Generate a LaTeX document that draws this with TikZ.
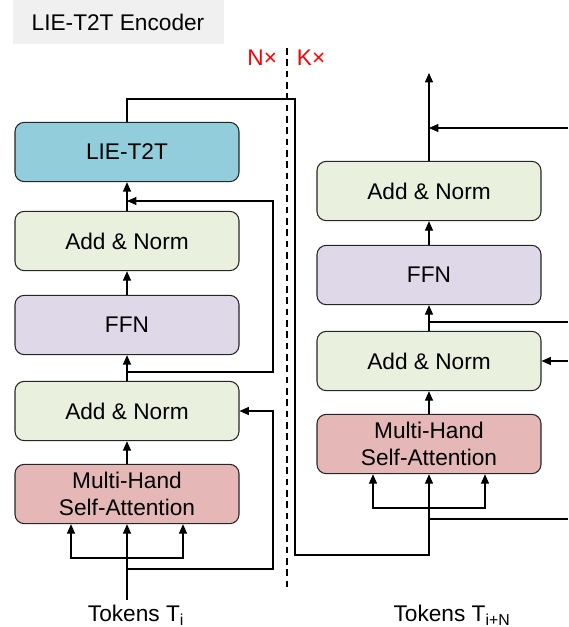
\documentclass[tikz,border=0pt]{standalone}
\usepackage{fontspec}
\setmainfont{Liberation Sans}
\usepackage{xcolor}
\usetikzlibrary{arrows.meta,positioning,calc}
\definecolor{lieBlue}{HTML}{92CDDC}
\definecolor{normGreen}{HTML}{EAF0DE}
\definecolor{ffnPurple}{HTML}{DFD8E8}
\definecolor{attRed}{HTML}{E5B8B7}
\definecolor{titleGray}{HTML}{F0F0F0}

\begin{document}
\begin{tikzpicture}[x=0.75pt,y=-0.75pt,>={Triangle[length=7pt,width=6pt]},
  font=\fontsize{17}{20.5}\selectfont,line width=0.8pt,
  box/.style={draw=black!85,rounded corners=7pt,minimum width=168pt,minimum height=44.5pt,align=center,inner sep=2pt},
  red label/.style={text=red}]
\useasboundingbox (0,0) rectangle (568,627);
% title
\fill[titleGray] (13,0) rectangle (224,44);
\node (title) at (118,22) {LIE-T2T Encoder};
% left column
\node[box,fill=lieBlue] (lie) at (127,152) {LIE-T2T};
\node[box,fill=normGreen] (an1) at (127,241) {Add \& Norm};
\node[box,fill=ffnPurple] (ffn1) at (127,325) {FFN};
\node[box,fill=normGreen] (an2) at (127,411) {Add \& Norm};
\node[box,fill=attRed] (att1) at (127,494) {Multi-Hand\\Self-Attention};
\node (tok1) at (136,615) {Tokens T\textsubscript{i}};
% right column
\node[box,fill=normGreen] (an4) at (429,191) {Add \& Norm};
\node[box,fill=ffnPurple] (ffn2) at (429,275) {FFN};
\node[box,fill=normGreen] (an3) at (429,361) {Add \& Norm};
\node[box,fill=attRed] (att2) at (429,444) {Multi-Hand\\Self-Attention};
\node (tok2) at (452,615) {Tokens T\textsubscript{i+N}};
% separator
\draw[dash pattern=on 5pt off 3.5pt] (287,48) -- (287,591);
\node[red label,anchor=east] (nx) at (282,58) {N×};
\node[red label,anchor=west] (kx) at (292,58) {K×};
\coordinate (edge) at (568,0);
% left flow
\coordinate (s1) at (127,558);
\coordinate (r1) at (127,569);
\coordinate (r2) at (127,372);
\coordinate (j1) at (127,201);
\draw[->] (tok1.north -| att1) -- (att1);
\draw (s1 -| 71,0) -- (s1 -| 183,0);
\foreach \dx in {-42,42}
  \draw[->] (s1) -| ([xshift=\dx pt]att1.south);
\draw[->] (att1) -- (an2);
\draw[->] (an2) -- (ffn1);
\draw[->] (ffn1) -- (an1);
\draw[->] (an1) -- (lie);
\draw[->] (r1) -- (273,569) |- (an2.east);
\draw[->] (r2) -- (273,372) |- (j1);
% link to next stage
\coordinate (b2) at (429,555);
\draw[->] (lie.north) |- (295,99) |- (b2) -- (att2.south);
% right flow
\coordinate (s2) at (429,508);
\coordinate (r3) at (429,519);
\coordinate (r4) at (429,322);
\coordinate (j2) at (429,128);
\coordinate (out) at (429,73);
\draw (s2 -| 372,0) -- (s2 -| 485,0);
\foreach \dx in {-42,42}
  \draw[->] (s2) -| ([xshift=\dx pt]att2.south);
\draw[->] (att2) -- (an3);
\draw[->] (an3) -- (ffn2);
\draw[->] (ffn2) -- (an4);
\draw[->] (an4) -- (out);
\draw (r3) -- (r3 -| edge);
\draw[->] (an3.east -| edge) -- (an3.east);
\draw (r4) -- (r4 -| edge);
\draw[->] (j2 -| edge) -- (j2);
\end{tikzpicture}
\end{document}
